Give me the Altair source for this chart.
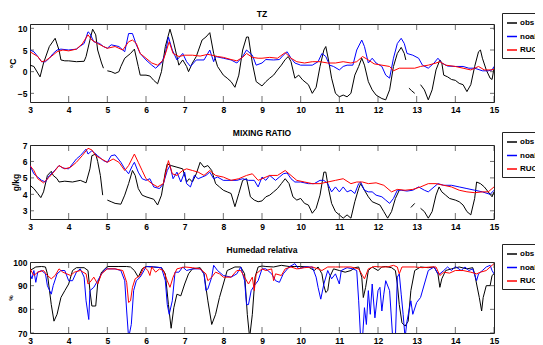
import altair as alt
import pandas as pd

NAMES = ["obs", "noah", "RUC"]
COLORS = ["#000000", "#0000ff", "#ff0000"]
X_TICKS = [3, 4, 5, 6, 7, 8, 9, 10, 11, 12, 13, 14, 15]

# ---------------- TZ (°C) ----------------
TZ_obs_x = [3.0,3.1,3.26,3.35,3.5,3.65,3.75,3.8,3.9,4.0,4.2,4.4,4.45,4.55,4.62,4.7,4.75,4.85,4.9,4.95,5.0,5.1,5.2,5.3,5.35,5.45,5.6,5.7,5.8,5.85,6.0,6.1,6.2,6.3,6.4,6.5,6.62,6.7,6.8,6.85,6.95,7.05,7.1,7.2,7.3,7.45,7.55,7.65,7.75,7.85,8.0,8.1,8.2,8.3,8.4,8.5,8.6,8.65,8.75,8.85,9.0,9.1,9.2,9.3,9.4,9.5,9.6,9.68,9.75,9.85,9.95,10.05,10.2,10.3,10.4,10.5,10.6,10.65,10.72,10.8,10.9,11.0,11.1,11.2,11.3,11.4,11.5,11.58,11.65,11.75,11.85,11.95,12.1,12.2,12.3,12.4,12.5,12.6,12.68,12.72,12.76,12.8,12.87,12.95,13.0,13.1,13.2,13.3,13.4,13.5,13.6,13.65,13.7,13.8,13.9,14.0,14.1,14.2,14.3,14.4,14.5,14.6,14.65,14.7,14.8,14.9,14.95,15.0]
TZ_obs_y = [1.5,1.2,-1.2,2.0,5.8,7.7,5.0,2.7,2.5,2.5,2.3,2.4,3.5,7.3,9.8,8.5,5.0,2.0,0.8,None,0.2,0.0,-0.4,0.0,1.2,3.1,4.2,5.2,1.2,-0.8,-0.8,-1.0,-2.0,-2.8,0.0,5.8,9.8,7.3,3.5,1.5,2.7,1.2,0.0,2.0,3.5,7.3,8.0,9.0,4.2,1.2,-0.8,-1.5,-2.3,-3.6,-0.8,5.0,8.0,8.0,2.0,-2.3,-3.3,-2.3,-1.5,-0.8,0.4,1.5,2.8,3.5,2.3,-1.5,-0.8,-1.9,-3.0,-5.0,-3.6,1.2,5.0,5.8,2.7,-1.5,-5.0,-5.8,-5.4,-5.8,-5.0,-0.8,1.2,3.1,1.5,-2.3,-4.2,-5.4,-6.2,-6.5,-4.2,1.2,4.2,5.6,4.2,2.7,None,-3.8,-4.4,-5.0,None,-3.0,-4.2,-6.5,-4.2,0.4,2.7,2.0,-0.8,-1.2,-1.8,-2.0,-2.7,-3.0,-4.6,-3.0,1.2,4.6,5.0,3.1,0.4,-1.5,-1.8,0.8]
TZ_noah_x = [3.0,3.1,3.2,3.3,3.4,3.5,3.6,3.7,3.8,4.0,4.2,4.3,4.4,4.5,4.55,4.65,4.8,4.9,5.0,5.1,5.3,5.45,5.55,5.65,5.75,5.85,6.0,6.15,6.25,6.4,6.5,6.58,6.68,6.8,6.95,7.05,7.15,7.3,7.5,7.65,7.75,7.8,8.0,8.2,8.35,8.5,8.6,8.75,8.85,9.0,9.1,9.3,9.45,9.55,9.65,9.75,9.85,10.0,10.3,10.45,10.55,10.65,10.75,10.85,11.0,11.1,11.2,11.35,11.45,11.58,11.65,11.75,11.85,11.95,12.1,12.2,12.3,12.4,12.5,12.6,12.68,12.75,12.9,13.05,13.15,13.3,13.45,13.55,13.65,13.8,14.0,14.2,14.35,14.5,14.7,14.85,14.95,15.0]
TZ_noah_y = [5.0,4.6,3.5,2.3,2.3,3.1,4.2,5.0,5.2,5.0,5.2,5.9,6.5,9.2,8.8,6.9,6.5,5.8,5.4,6.2,5.8,4.6,8.8,8.8,6.2,4.2,2.7,1.5,0.8,2.0,4.2,8.0,5.0,2.7,4.2,2.3,1.2,2.7,2.7,5.0,2.3,3.5,3.1,2.7,2.0,3.5,5.0,3.8,1.5,2.0,2.8,2.7,2.8,3.8,4.6,3.1,2.0,1.5,1.5,2.3,4.2,3.5,1.5,1.2,0.4,1.2,1.5,1.5,5.0,7.3,5.8,2.0,3.1,2.0,1.2,-0.8,-1.5,3.1,6.5,7.7,6.5,4.2,3.8,3.1,1.5,0.8,2.0,3.1,2.0,1.3,1.2,1.2,0.8,0.8,0.2,0.2,0.4,1.2]
TZ_ruc_x = [3.0,3.2,3.3,3.4,3.55,3.7,3.85,4.0,4.2,4.35,4.5,4.6,4.75,4.9,5.0,5.2,5.4,5.55,5.65,5.75,5.85,6.0,6.15,6.3,6.45,6.6,6.7,6.85,7.0,7.2,7.4,7.6,7.7,7.85,8.0,8.2,8.35,8.5,8.6,8.75,8.9,9.0,9.2,9.4,9.6,9.75,9.9,10.1,10.3,10.5,10.7,10.9,11.1,11.3,11.45,11.6,11.75,11.9,12.1,12.3,12.4,12.55,12.75,12.95,13.1,13.3,13.5,13.6,13.75,14.0,14.2,14.4,14.6,14.75,14.9,15.0]
TZ_ruc_y = [4.6,3.5,2.3,2.5,3.5,4.6,5.0,4.8,5.2,6.4,8.5,7.3,6.5,5.8,5.4,5.8,5.0,6.9,7.3,6.5,4.2,3.1,2.0,1.5,2.7,6.9,4.2,3.5,3.8,3.8,3.6,4.0,3.8,3.5,3.3,2.8,2.5,3.3,4.2,3.3,3.1,3.1,3.3,3.1,4.4,3.1,2.3,2.0,2.3,2.3,2.0,2.0,2.3,2.0,2.3,3.5,2.7,1.8,1.5,1.2,0.2,0.8,0.8,0.8,1.2,1.5,2.0,2.3,1.5,1.2,0.8,0.4,1.2,0.4,0.4,0.5]

# ---------------- MIXING RATIO (g/kg) ----------------
MR_obs_x = [3.0,3.1,3.2,3.28,3.35,3.45,3.55,3.6,3.7,3.75,3.9,4.1,4.3,4.45,4.55,4.6,4.7,4.75,4.82,4.88,4.94,5.0,5.1,5.2,5.35,5.45,5.55,5.65,5.72,5.8,5.9,6.0,6.2,6.3,6.4,6.5,6.55,6.65,6.8,6.95,7.05,7.12,7.2,7.3,7.4,7.5,7.6,7.7,7.8,7.9,8.0,8.1,8.2,8.3,8.4,8.5,8.6,8.7,8.8,8.9,9.0,9.1,9.2,9.3,9.4,9.5,9.6,9.7,9.8,9.9,10.0,10.1,10.2,10.3,10.4,10.5,10.6,10.65,10.72,10.8,10.9,11.0,11.1,11.2,11.3,11.4,11.5,11.55,11.65,11.75,11.85,11.95,12.05,12.15,12.25,12.35,12.45,12.55,12.7,12.85,12.95,13.02,13.1,13.2,13.3,13.4,13.5,13.58,13.65,13.75,13.85,14.0,14.1,14.2,14.3,14.4,14.5,14.55,14.65,14.75,14.85,14.95,15.0]
MR_obs_y = [4.55,4.35,4.05,3.8,4.15,5.15,5.4,5.15,4.95,4.75,4.8,4.75,4.85,4.7,5.55,6.35,6.45,6.0,5.15,3.95,None,3.65,3.55,3.45,3.4,3.95,4.65,5.45,5.15,4.35,3.95,3.85,3.7,3.35,3.95,5.35,5.85,5.75,5.65,5.55,4.75,4.95,4.75,5.25,5.95,5.65,5.75,5.45,4.65,4.45,4.25,4.15,4.05,3.25,4.05,4.85,4.95,3.85,3.65,3.55,3.6,3.85,3.95,4.15,4.35,4.65,4.95,4.65,3.85,3.65,3.75,3.45,3.35,2.85,3.15,3.95,5.35,5.35,4.35,3.45,2.95,2.75,2.55,2.75,2.55,3.55,4.35,4.65,4.25,3.85,3.55,3.45,3.35,2.95,2.55,2.95,3.75,4.25,None,3.2,3.45,None,3.15,2.95,2.55,2.95,3.95,4.45,4.15,3.95,3.75,3.65,3.55,3.35,2.95,2.75,3.75,4.75,4.65,4.45,4.15,3.85,4.15]
MR_noah_x = [3.0,3.1,3.2,3.3,3.4,3.5,3.6,3.75,3.85,4.0,4.2,4.3,4.45,4.5,4.6,4.75,4.9,5.0,5.1,5.2,5.35,5.45,5.55,5.65,5.7,5.8,5.9,6.0,6.1,6.2,6.35,6.45,6.55,6.62,6.7,6.8,6.9,7.0,7.05,7.15,7.25,7.35,7.45,7.55,7.65,7.75,7.85,8.0,8.2,8.35,8.5,8.65,8.8,8.9,9.0,9.1,9.2,9.35,9.45,9.55,9.65,9.75,9.85,10.0,10.2,10.35,10.5,10.6,10.7,10.8,10.9,11.0,11.1,11.2,11.3,11.4,11.5,11.55,11.65,11.75,11.85,11.95,12.1,12.2,12.3,12.4,12.5,12.6,12.75,12.9,13.05,13.2,13.3,13.45,13.55,13.7,13.9,14.1,14.3,14.5,14.7,14.9,15.0]
MR_noah_y = [5.75,5.25,5.05,4.85,4.75,5.15,5.35,5.75,5.6,5.55,6.15,6.35,6.75,6.45,6.65,6.35,6.05,5.95,6.35,6.4,5.95,5.55,5.25,5.75,5.95,5.35,4.95,4.85,4.95,4.45,4.35,4.65,5.45,5.75,4.95,5.35,4.75,5.35,4.65,4.45,5.15,4.95,5.05,5.15,5.35,4.95,5.05,4.85,4.85,4.85,4.95,4.85,4.85,4.45,5.05,4.85,5.15,4.85,5.05,5.25,5.3,4.95,4.75,4.75,4.65,4.65,4.85,4.85,4.65,4.15,4.45,4.15,4.45,4.15,4.25,4.05,4.65,4.75,4.25,4.15,4.15,3.95,3.85,3.65,3.45,3.75,4.25,4.25,4.2,4.25,4.45,4.25,4.15,4.45,4.65,4.55,4.55,4.45,4.35,4.25,4.15,4.0,4.25]
MR_ruc_x = [3.0,3.1,3.2,3.35,3.5,3.65,3.75,3.9,4.05,4.2,4.35,4.5,4.6,4.7,4.85,5.0,5.15,5.3,5.45,5.55,5.7,5.8,5.9,6.0,6.15,6.3,6.45,6.58,6.68,6.8,6.95,7.05,7.2,7.35,7.5,7.65,7.8,8.0,8.2,8.4,8.6,8.75,8.9,9.0,9.2,9.4,9.6,9.75,9.9,10.1,10.3,10.5,10.7,10.9,11.1,11.3,11.45,11.6,11.75,11.95,12.15,12.35,12.5,12.7,12.9,13.1,13.3,13.5,13.7,13.9,14.1,14.3,14.5,14.7,14.85,15.0]
MR_ruc_y = [5.75,5.45,4.95,4.7,5.05,5.45,5.75,5.55,5.65,5.95,6.35,6.8,6.7,6.35,6.15,5.95,6.15,5.95,5.45,5.75,6.45,5.95,5.45,4.95,4.65,4.45,4.65,6.05,5.25,5.15,5.45,5.55,5.45,5.35,5.15,5.45,5.15,5.05,4.85,4.95,5.15,5.25,4.85,4.95,5.15,5.15,5.45,5.15,4.85,4.75,4.65,4.65,4.75,4.85,4.95,4.65,4.75,4.75,4.65,4.7,4.55,4.15,4.3,4.25,4.3,4.45,4.65,4.65,4.55,4.45,4.25,4.15,4.1,4.15,4.15,4.45]

# ---------------- Humedad relativa (%) ----------------
HR_obs_x = [3.0,3.15,3.3,3.4,3.45,3.55,3.62,3.7,3.8,3.9,4.0,4.1,4.2,4.4,4.5,4.55,4.6,4.7,4.75,4.85,5.0,5.3,5.5,5.6,5.7,5.8,5.9,6.0,6.2,6.4,6.5,6.58,6.65,6.72,6.8,6.9,7.0,7.1,7.2,7.4,7.5,7.6,7.7,7.8,7.9,8.0,8.1,8.3,8.45,8.55,8.62,8.68,8.75,8.82,8.9,9.0,9.1,9.3,9.5,9.7,9.85,10.0,10.2,10.35,10.45,10.55,10.6,10.65,10.7,10.75,10.85,11.0,11.15,11.3,11.4,11.5,11.58,11.62,11.68,11.75,11.85,12.0,12.1,12.2,12.35,12.45,12.5,12.55,12.62,12.7,12.78,12.85,12.95,13.1,13.3,13.45,13.55,13.6,13.65,13.75,13.9,14.1,14.3,14.45,14.5,14.55,14.62,14.68,14.72,14.8,14.9,14.95,15.0]
HR_obs_y = [96.4,97.9,98.1,97.9,95.0,82.0,75.0,77.9,85.0,87.9,90.7,96.4,97.6,97.6,96.4,87.9,81.4,81.4,90.7,95.7,98.1,98.1,98.1,97.9,96.4,93.6,97.1,98.1,97.9,97.6,95.0,82.0,72.0,80.7,86.4,85.7,90.7,95.0,97.1,97.6,95.0,83.6,73.6,77.9,85.0,90.7,96.4,97.9,97.9,95.0,77.9,68.0,77.9,93.6,97.9,98.3,98.1,97.9,98.6,98.1,98.1,98.1,97.9,96.4,97.9,95.0,90.0,87.1,87.9,93.6,97.1,96.4,95.7,96.4,97.6,97.9,93.6,85.0,89.3,96.4,97.9,96.4,97.9,98.1,97.6,96.4,90.7,82.0,74.3,72.9,75.0,87.9,96.4,97.9,97.6,97.9,95.0,89.3,92.9,96.4,97.1,97.9,97.1,97.6,95.0,90.7,85.0,79.3,85.0,90.0,90.0,94.3,95.0]
HR_noah_x = [3.0,3.05,3.1,3.15,3.2,3.3,3.4,3.45,3.55,3.6,3.7,3.8,3.9,4.0,4.1,4.2,4.3,4.4,4.45,4.52,4.55,4.65,4.75,4.85,4.95,5.2,5.35,5.45,5.5,5.55,5.62,5.68,5.75,5.85,5.95,6.0,6.2,6.4,6.5,6.55,6.6,6.68,6.75,6.85,6.95,7.05,7.2,7.4,7.5,7.55,7.6,7.7,7.75,7.85,8.0,8.2,8.35,8.45,8.55,8.6,8.65,8.72,8.8,8.9,9.0,9.1,9.25,9.35,9.45,9.55,9.7,9.85,9.95,10.1,10.3,10.4,10.45,10.52,10.6,10.7,10.8,10.9,11.0,11.05,11.2,11.35,11.45,11.5,11.55,11.6,11.65,11.7,11.75,11.8,11.85,11.92,12.0,12.05,12.1,12.15,12.2,12.3,12.38,12.45,12.5,12.55,12.6,12.65,12.7,12.75,12.85,12.9,13.0,13.1,13.2,13.3,13.45,13.55,13.6,13.7,13.8,13.9,14.0,14.15,14.25,14.35,14.45,14.55,14.6,14.7,14.8,14.9,14.95,15.0]
HR_noah_y = [95.0,92.9,96.4,91.4,95.7,96.4,95.0,90.0,86.4,90.0,95.0,96.4,96.4,92.1,92.1,95.7,97.1,93.6,83.6,75.7,87.9,89.3,92.1,95.0,97.1,97.1,96.4,92.1,79.3,68.0,73.6,87.9,92.1,93.6,96.4,98.1,97.9,97.6,92.1,82.0,77.9,83.6,95.7,95.7,97.9,96.4,97.1,97.1,95.0,87.9,88.6,93.6,98.6,96.4,94.3,93.6,95.0,97.9,92.1,82.0,82.0,87.9,90.0,92.1,97.1,97.1,95.0,92.1,91.4,95.0,97.9,99.3,97.1,97.9,97.9,93.6,89.3,84.3,90.7,96.4,92.9,95.0,90.7,96.4,97.6,97.1,96.4,83.6,68.0,68.0,80.7,73.6,87.9,77.9,90.7,76.4,87.9,89.3,79.3,86.4,92.1,87.9,68.0,68.0,93.6,95.0,86.4,77.9,68.0,75.0,83.6,77.9,82.9,85.0,90.7,96.4,97.9,95.0,95.0,96.4,97.9,96.4,98.1,96.4,97.9,96.4,97.1,92.1,95.0,96.4,97.9,98.6,96.4,95.0]
HR_ruc_x = [3.0,3.1,3.2,3.35,3.45,3.55,3.65,3.75,3.85,3.95,4.05,4.15,4.3,4.45,4.5,4.55,4.65,4.75,4.85,5.0,5.2,5.4,5.5,5.55,5.6,5.65,5.72,5.85,5.95,6.05,6.1,6.15,6.25,6.35,6.45,6.55,6.62,6.7,6.8,7.0,7.2,7.4,7.55,7.6,7.7,7.8,7.9,8.0,8.2,8.35,8.45,8.55,8.65,8.75,8.8,8.85,9.0,9.1,9.25,9.3,9.35,9.5,9.6,9.75,9.9,10.1,10.3,10.45,10.55,10.7,10.9,11.1,11.3,11.5,11.6,11.65,11.75,11.9,12.1,12.25,12.4,12.5,12.55,12.62,12.75,12.95,13.15,13.35,13.5,13.6,13.7,13.85,14.0,14.2,14.4,14.55,14.65,14.8,14.9,15.0]
HR_ruc_y = [97.1,94.3,95.7,96.4,94.3,92.9,94.3,97.1,95.7,95.0,94.3,95.7,96.4,95.0,90.7,91.4,93.6,90.7,95.0,97.1,97.1,96.4,91.4,82.9,83.6,89.3,92.9,94.3,97.9,96.4,94.3,97.9,95.7,97.1,96.4,92.1,89.3,93.6,97.1,97.9,97.6,97.1,95.0,92.1,93.6,95.7,95.0,93.6,93.6,96.4,96.4,93.6,90.7,93.6,87.9,95.0,97.1,96.4,97.1,92.1,95.0,94.3,97.1,97.9,97.1,97.6,97.9,97.1,96.4,97.9,97.9,97.9,97.9,97.1,94.3,92.9,97.1,98.1,97.9,97.9,98.6,97.9,95.0,97.9,97.9,97.9,97.6,97.9,97.9,94.3,95.7,95.3,96.4,96.4,95.7,95.0,95.7,96.4,97.9,99.3]

FONT = "Liberation Sans, Arial, sans-serif"
FS = 8.5
W = 464
H1, H2, H3 = 78, 74, 71
GAP = 43


def series_df(xs, ys, name):
    assert len(xs) == len(ys), (name, len(xs), len(ys))
    rows, seg = [], 0
    for x, y in zip(xs, ys):
        if y is None:
            seg += 1
            continue
        rows.append({"x": x, "y": y, "s": name, "seg": seg})
    return pd.DataFrame(rows)


def panel(title, ytitle, ydomain, yticks, series, height, legend_y, ytitle_x, ytitle_size, title_offset):
    xsc = alt.Scale(domain=[3, 15], nice=False, zero=False)
    ysc = alt.Scale(domain=ydomain, nice=False, zero=False)
    xaxis = alt.Axis(values=X_TICKS, format="d", ticks=False, domain=False, grid=False,
                     labelPadding=3, labelFont=FONT, labelFontSize=FS, labelFontWeight="bold",
                     labelColor="black", title=None, labelOverlap=False, labelFlush=False)
    yaxis = alt.Axis(values=yticks, format="d", ticks=False, domain=False, grid=False,
                     labelPadding=3, labelFont=FONT, labelFontSize=FS, labelFontWeight="bold",
                     labelColor="black", labelOverlap=False, labelFlush=False,
                     title=ytitle, titleX=ytitle_x, titleY=height / 2, titleBaseline="middle",
                     titleAlign="center", titleAngle=270, titleFont=FONT,
                     titleFontSize=ytitle_size, titleFontWeight="bold", titleColor="black")
    legend = alt.Legend(orient="none", legendX=472, legendY=legend_y, title=None,
                        symbolType="stroke", symbolSize=100, symbolStrokeWidth=1.5,
                        labelFont=FONT, labelFontSize=8, labelFontWeight="bold",
                        labelColor="black", labelOffset=2, padding=4, rowPadding=3.5,
                        strokeColor="#222", fillColor="white", cornerRadius=0)
    X = lambda f: alt.X(f, scale=xsc, axis=xaxis)
    Y = lambda f: alt.Y(f, scale=ysc, axis=yaxis)
    layers = []
    for name, xs, ys in series:
        df = series_df(xs, ys, name)
        layers.append(
            alt.Chart(df).mark_line(clip=True, strokeWidth=1).encode(
                x=X("x:Q"), y=Y("y:Q"),
                color=alt.Color("s:N", scale=alt.Scale(domain=NAMES, range=COLORS), legend=legend),
                detail="seg:N",
            )
        )
    # inward MATLAB-style ticks on all four sides (clipped to the plot box)
    xt = pd.DataFrame([{"t": t, "e": e} for t in X_TICKS for e in ydomain])
    yt = pd.DataFrame([{"t": t, "e": e} for t in yticks for e in (3, 15)])
    tick_col = "#333333"
    layers.append(alt.Chart(xt).mark_tick(orient="vertical", size=12, thickness=1,
                                           color=tick_col, clip=True).encode(x=X("t:Q"), y=Y("e:Q")))
    layers.append(alt.Chart(yt).mark_tick(orient="horizontal", size=8, thickness=1,
                                           color=tick_col, clip=True).encode(x=X("e:Q"), y=Y("t:Q")))
    # the title sits above the group's bounds, which start at the legend's top edge;
    # the offset brings it back down to just above the plot box
    return alt.layer(*layers).properties(
        width=W, height=height,
        title=alt.TitleParams(title, font=FONT, fontSize=FS, fontWeight="bold",
                              color="black", offset=title_offset, anchor="middle", frame="group"),
    )


p1 = panel("TZ", "°C", [-7, 11], [-5, 0, 5, 10],
           [("obs", TZ_obs_x, TZ_obs_y), ("noah", TZ_noah_x, TZ_noah_y), ("RUC", TZ_ruc_x, TZ_ruc_y)],
           H1, -11, -18, FS, -6)
p2 = panel("MIXING RATIO", "g/kg", [2.5, 7], [3, 4, 5, 6, 7],
           [("obs", MR_obs_x, MR_obs_y), ("noah", MR_noah_x, MR_noah_y), ("RUC", MR_ruc_x, MR_ruc_y)],
           H2, -13, -15, FS, -6)
p3 = panel("Humedad relativa", "%", [70, 100], [70, 80, 90, 100],
           [("obs", HR_obs_x, HR_obs_y), ("noah", HR_noah_x, HR_noah_y), ("RUC", HR_ruc_x, HR_ruc_y)],
           H3, -18, -19.5, 6, -11)

# fixed-size canvas 527 x 337 (page minus its 8px margin); Vega's own width here is the
# panel width and its height is 0, so the padding makes up the rest. Anything beyond is cut.
PAD = {"left": 22, "top": 16, "right": 527 - 22 - W, "bottom": 337 - 16}

chart = alt.vconcat(
    p1, p2, p3, spacing=GAP, bounds="flush",
    autosize=alt.AutoSizeParams(type="none"),
    padding=PAD,
).resolve_scale(
    color="independent"
).configure(
    background="white", font=FONT
).configure_view(stroke="#222222", strokeWidth=1)

chart.save("out.html", embed_options={"renderer": "svg", "actions": False})
